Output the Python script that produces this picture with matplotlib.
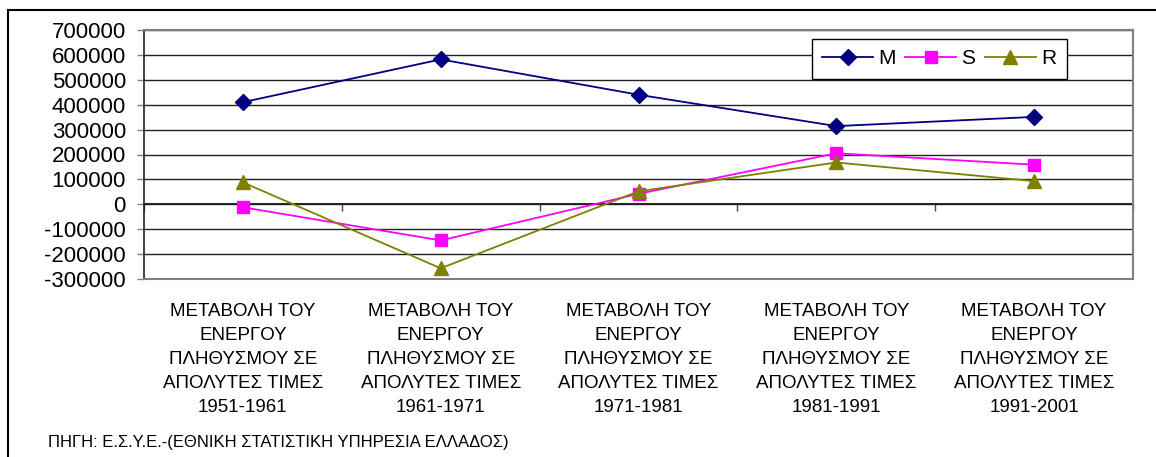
import matplotlib.pyplot as plt
import matplotlib.patches as patches
import numpy as np

plt.rcParams['font.family'] = ['Liberation Sans', 'DejaVu Sans']

# dados
periodos = ['1951-1961', '1961-1971', '1971-1981', '1981-1991', '1991-2001']
rotulo_base = 'ΜΕΤΑΒΟΛΗ ΤΟΥ\nΕΝΕΡΓΟΥ\nΠΛΗΘΥΣΜΟΥ ΣΕ\nΑΠΟΛΥΤΕΣ ΤΙΜΕΣ\n'
valores_m = [410000, 582000, 440000, 314000, 351000]
valores_s = [-12000, -145000, 42000, 205000, 159000]
valores_r = [88000, -257000, 52000, 168000, 93000]
yticks = np.arange(-300000, 700001, 100000)

fig = plt.figure(figsize=(11.56, 4.57), dpi=100)
fig.patch.set_facecolor('white')
ax = fig.add_axes([144 / 1156, 1 - 279 / 457, (1133 - 144) / 1156, 249 / 457])

x = np.arange(len(periodos))
ax.plot(x, valores_m, color='#000080', lw=1.3, marker='D', ms=8.5, label='M')
ax.plot(x, valores_s, color='#FF00FF', lw=1.3, marker='s', ms=8, label='S')
ax.plot(x, valores_r, color='#808000', lw=1.3, marker='^', ms=9.5, label='R')

ax.set_xlim(-0.5, len(periodos) - 0.5)
ax.set_ylim(yticks[0], yticks[-1])
ax.set_yticks(yticks)
ax.set_yticklabels([str(v) for v in yticks], fontsize=16)
ax.tick_params(axis='y', length=5, width=1, color='#808080', pad=8)

ax.set_xticks(x)
ax.set_xticklabels([rotulo_base + p for p in periodos], fontsize=13.5, linespacing=1.55)
ax.tick_params(axis='x', length=0, pad=17)

ax.grid(axis='y', color='#222222', lw=1)
ax.set_axisbelow(True)
for lado in ['top', 'right', 'bottom']:
    ax.spines[lado].set_color('#808080')
    ax.spines[lado].set_linewidth(1.5)
ax.spines['left'].set_color('#222222')
ax.spines['left'].set_linewidth(1.2)

# eixo X cruzando no zero
pos_zero = (0 - yticks[0]) / (yticks[-1] - yticks[0])
sec = ax.secondary_xaxis(pos_zero)
sec.set_xticks(np.arange(-0.5, len(periodos), 1.0))
sec.set_xticklabels([])
sec.tick_params(axis='x', direction='out', length=5, width=1, color='#444444')
sec.spines['bottom'].set_color('black')
sec.spines['bottom'].set_linewidth(1.2)

leg = ax.legend(loc='upper left', bbox_to_anchor=(0.675, 0.965), ncol=3, fontsize=15,
                frameon=True, fancybox=False, edgecolor='black', framealpha=1,
                handlelength=2.45, handletextpad=0.25, columnspacing=0.45,
                borderpad=0.5, borderaxespad=0)
leg.get_frame().set_linewidth(1.0)

fig.text(48 / 1156, 1 - 442 / 457, 'ΠΗΓΗ: Ε.Σ.Υ.Ε.-(ΕΘΝΙΚΗ ΣΤΑΤΙΣΤΙΚΗ ΥΠΗΡΕΣΙΑ ΕΛΛΑΔΟΣ)',
         fontsize=12, va='center', ha='left')

# moldura externa
fig.patches.append(patches.Rectangle((8 / 1156, -0.2), 1.2, 1.2 - 10 / 457,
                                     transform=fig.transFigure, fill=False,
                                     edgecolor='black', lw=1.5))

plt.savefig('out.png', dpi=100, facecolor='white')
